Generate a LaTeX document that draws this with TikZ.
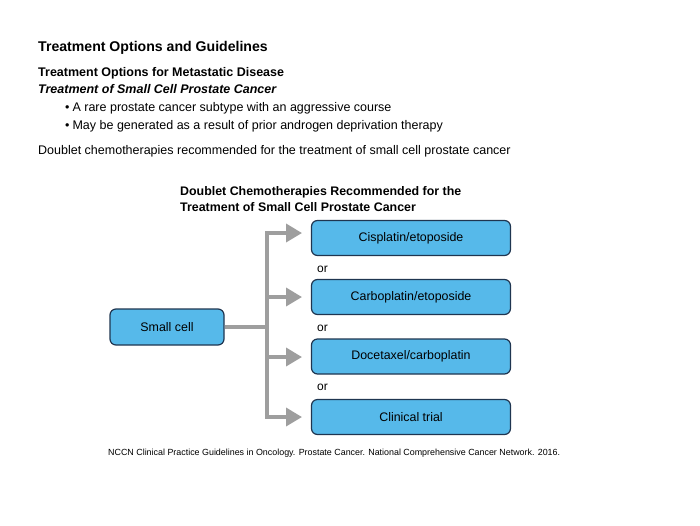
\documentclass[tikz,border=0pt]{standalone}
\usepackage{fontspec}
\setmainfont{Liberation Sans}
\usetikzlibrary{arrows.meta}
\definecolor{boxfill}{HTML}{56B9EA}
\definecolor{boxline}{HTML}{1F3550}
\definecolor{conn}{HTML}{9E9E9E}
\tikzset{
  txt/.style={anchor=base west, inner sep=0pt, font=\fontsize{12.5}{14}\selectfont},
  optbox/.style={draw=boxline, line width=1.2pt, fill=boxfill, rounded corners=6pt, minimum width=199pt, minimum height=35pt, inner sep=0pt, font=\fontsize{12.4}{14}\selectfont},
  orlbl/.style={anchor=base west, inner sep=0pt, font=\fontsize{12}{14}\selectfont},
  connline/.style={draw=conn, line width=3.5pt},
  connarrow/.style={draw=conn, line width=3.5pt, -{Triangle[length=16pt,width=18pt]}}
}
\begin{document}
\begin{tikzpicture}[x=1pt,y=-1pt]
\useasboundingbox (0,0) rectangle (700,525);
\node[txt, font=\bfseries\fontsize{14.1}{16}\selectfont] (t1) at (38,51) {Treatment Options and Guidelines};
\node[txt, font=\bfseries\fontsize{12.5}{14}\selectfont] (t2) at (38,76) {Treatment Options for Metastatic Disease};
\node[txt, font=\bfseries\itshape\fontsize{12.5}{14}\selectfont] (t3) at (38,93) {Treatment of Small Cell Prostate Cancer};
\node[txt] (b1) at (65,111) {•\hspace{3pt}A rare prostate cancer subtype with an aggressive course};
\node[txt] (b2) at (65,129) {•\hspace{3pt}May be generated as a result of prior androgen deprivation therapy};
\node[txt] (t4) at (38,154) {Doublet chemotherapies recommended for the treatment of small cell prostate cancer};
\node[txt, font=\bfseries\fontsize{12.4}{14}\selectfont] (d1) at (180,195) {Doublet Chemotherapies Recommended for the};
\node[txt, font=\bfseries\fontsize{12.4}{14}\selectfont] (d2) at (180,211) {Treatment of Small Cell Prostate Cancer};

\node[optbox] (o1) at (411,238) {Cisplatin/etoposide};
\node[optbox] (o2) at (411,297) {Carboplatin/etoposide};
\node[optbox] (o3) at (411,356.5) {Docetaxel/carboplatin};
\node[optbox] (o4) at (411,417) {Clinical trial};
\node[optbox, minimum width=114pt, minimum height=36pt] (sc) at (167,327) {Small cell};

\node[orlbl] (or1) at (317,272) {or};
\node[orlbl] (or2) at (317,331) {or};
\node[orlbl] (or3) at (317,390) {or};

\coordinate (j) at (267,327);
\coordinate (jt) at (267,233);
\coordinate (jb) at (267,417);
\coordinate (j2) at (267,297);
\coordinate (j3) at (267,357);
\draw[connline] (sc.east) -- (j);
\draw[connline] ([yshift=-1.75pt]jt) -- ([yshift=1.75pt]jb);
\draw[connarrow] ([xshift=-1.75pt]jt) -- (302,233);
\draw[connarrow] (j2) -- (302,297);
\draw[connarrow] (j3) -- (302,357);
\draw[connarrow] ([xshift=-1.75pt]jb) -- (302,417);

\node[txt, font=\fontsize{8.9}{10}\selectfont] (fn) at (108,455) {NCCN Clinical Practice Guidelines in Oncology. Prostate Cancer. National Comprehensive Cancer Network. 2016.};
\end{tikzpicture}
\end{document}
